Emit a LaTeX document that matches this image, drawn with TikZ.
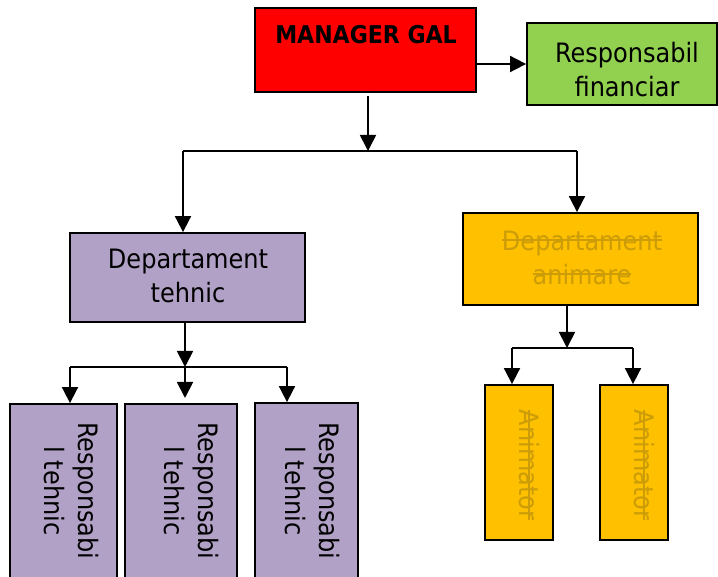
\documentclass[tikz,border=0pt]{standalone}
\usepackage{fontspec}
\setmainfont{DejaVu Sans Condensed}
\usetikzlibrary{arrows.meta}
\definecolor{mred}{HTML}{FF0000}
\definecolor{mgreen}{HTML}{92D050}
\definecolor{mpurple}{HTML}{B2A1C7}
\definecolor{morange}{HTML}{FFC000}
\definecolor{goldtxt}{RGB}{204,157,8}
\newcommand\strk[1]{\setbox0=\hbox{#1}\rlap{\rule[0.34em]{\wd0}{0.06em}}\box0}
\begin{document}
\begin{tikzpicture}[x=1pt,y=-1pt,
  box/.style={draw=black,line width=1.8pt,inner sep=0pt},
  arr/.style={line width=1.8pt,-{Triangle[length=16pt,width=16pt]}},
  ln/.style={line width=1.8pt},
  txt/.style={font=\fontsize{26.7}{34}\selectfont,align=center,inner sep=0pt},
  vtxt/.style={txt,rotate=-90},
  struck/.style={text=goldtxt}]
\useasboundingbox (0,0) rectangle (718,577);
% boxes
\node[box,fill=mred,minimum width=221pt,minimum height=84pt] (mgr) at (365.5,50) {};
\node[inner sep=0pt,font=\fontsize{24.5}{28}\selectfont\bfseries] (mgrt) at (366,35) {MANAGER GAL};
\node[box,fill=mgreen,minimum width=190pt,minimum height=82pt] (fin) at (622,64) {};
\node[txt] (fint) at (627,69.5) {Responsabil\\financiar};
\node[box,fill=mpurple,minimum width=235pt,minimum height=89pt] (dt) at (187.5,277.5) {};
\node[txt] (dtt) at (188,276) {Departament\\tehnic};
\node[box,fill=morange,minimum width=235pt,minimum height=92pt] (da) at (580.5,259) {};
\node[txt,struck] (dat) at (582,257.5) {\strk{Departament}\\\strk{animare}};
\node[box,fill=mpurple,minimum width=107pt,minimum height=174pt] (r1) at (63.5,491) {};
\node[box,fill=mpurple,minimum width=112pt,minimum height=174pt] (r2) at (181,491) {};
\node[box,fill=mpurple,minimum width=103pt,minimum height=176pt] (r3) at (306.5,491) {};
\node[vtxt] (r1t) at (71,491) {Responsabi\\l tehnic};
\node[vtxt] (r2t) at (191,491) {Responsabi\\l tehnic};
\node[vtxt] (r3t) at (312,491) {Responsabi\\l tehnic};
\node[box,fill=morange,minimum width=68pt,minimum height=155pt] (a1) at (519,462.5) {};
\node[box,fill=morange,minimum width=68pt,minimum height=155pt] (a2) at (634,462.5) {};
\node[vtxt,struck] (a1t) at (529,465) {\strk{Animator}};
\node[vtxt,struck] (a2t) at (644,465) {\strk{Animator}};
% connectors
\draw[arr] ([yshift=-14pt]mgr.east) -- (fin.west);
\coordinate (j1) at (368,151);
\coordinate (j1l) at (183,151);
\coordinate (j1r) at (577,151);
\draw[arr] ([xshift=2.5pt,yshift=-3pt]mgr.south) -- (j1);
\draw[ln] (j1l) -- (j1r);
\draw[arr] (j1l) -- (j1l |- dt.north);
\draw[arr] (j1r) -- (j1r |- da.north);
\coordinate (j2) at (185,367);
\coordinate (j2l) at (70,367);
\coordinate (j2r) at (287,367);
\coordinate (j2m) at (185,398);
\draw[arr] (dt.south -| j2) -- (j2);
\draw[ln] (j2l) -- (j2r);
\draw[arr] (j2l) -- (j2l |- r1.north);
\draw[arr] (j2) -- (j2m);
\draw[arr] (j2r) -- (j2r |- r3.north);
\coordinate (j3) at (567,348);
\coordinate (j3l) at (512,348);
\coordinate (j3r) at (633,348);
\draw[arr] (da.south -| j3) -- (j3);
\draw[ln] (j3l) -- (j3r);
\draw[arr] (j3l) -- (j3l |- a1.north);
\draw[arr] (j3r) -- (j3r |- a2.north);
\end{tikzpicture}
\end{document}
